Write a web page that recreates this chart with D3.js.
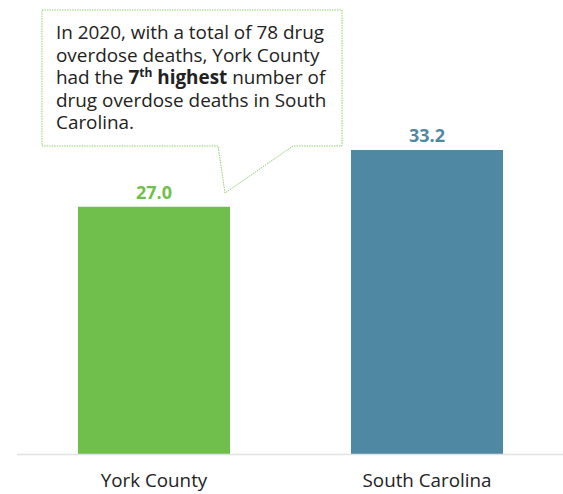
<!DOCTYPE html>
<html>
<head>
<meta charset="utf-8">
<script src="https://cdn.jsdelivr.net/npm/d3@7"></script>
<style>
  body { margin: 0; background: #fff; }
  svg { display: block; font-family: "Open Sans", Lato, sans-serif; }
</style>
</head>
<body>
<div id="chart"></div>
<script>
// Data
const categories = ["York County", "South Carolina"];
const values = [27.0, 33.2];
const barColors = ["#70bf4c", "#4f88a2"];
const calloutLines = [
    [{ t: "In 2020, with a total of 78 drug" }],
    [{ t: "overdose deaths, York County" }],
    [{ t: "had the " }, { t: "7", b: true }, { t: "th", b: true, sup: true }, { t: " highest", b: true }, { t: " number of" }],
    [{ t: "drug overdose deaths in South" }],
    [{ t: "Carolina." }]
];

const width = 563, height = 494;
const baseline = 454;

const svg = d3.select("#chart")
    .append("svg")
    .attr("width", width)
    .attr("height", height);

// Scales
const x = d3.scaleBand()
    .domain(categories)
    .range([17.5, 563.5])
    .paddingInner(0.443)
    .paddingOuter(0.2215);

const y = d3.scaleLinear()
    .domain([0, 40])
    .range([baseline, baseline - 40 * 9.157]);

// Bars
svg.selectAll(".bar")
    .data(values)
    .enter()
    .append("rect")
    .attr("class", "bar")
    .attr("x", (d, i) => x(categories[i]))
    .attr("y", d => y(d))
    .attr("width", x.bandwidth())
    .attr("height", d => y(0) - y(d))
    .style("fill", (d, i) => barColors[i]);

// Baseline
svg.append("line")
    .attr("x1", 17)
    .attr("x2", width)
    .attr("y1", baseline + 0.5)
    .attr("y2", baseline + 0.5)
    .style("stroke", "#e2e2e2")
    .style("stroke-width", 1.5);

// Value labels
svg.selectAll(".value-label")
    .data(values)
    .enter()
    .append("text")
    .attr("class", "value-label")
    .attr("x", (d, i) => x(categories[i]) + x.bandwidth() / 2)
    .attr("y", d => y(d) - 8)
    .attr("text-anchor", "middle")
    .style("font-size", "18px")
    .style("font-weight", "bold")
    .style("fill", (d, i) => barColors[i])
    .text(d => d.toFixed(1));

// Category labels
svg.selectAll(".cat-label")
    .data(categories)
    .enter()
    .append("text")
    .attr("class", "cat-label")
    .attr("x", d => x(d) + x.bandwidth() / 2)
    .attr("y", 487)
    .attr("text-anchor", "middle")
    .style("font-size", "18.8px")
    .style("fill", "#222")
    .text(d => d);

// Callout box with pointer
const box = { x0: 42, y0: 10, x1: 342, y1: 146 };
const tip = [225, 193];
const calloutPath = d3.path();
calloutPath.moveTo(box.x0, box.y0);
calloutPath.lineTo(box.x1, box.y0);
calloutPath.lineTo(box.x1, box.y1);
calloutPath.lineTo(293, box.y1);
calloutPath.lineTo(tip[0], tip[1]);
calloutPath.lineTo(218, box.y1);
calloutPath.lineTo(box.x0, box.y1);
calloutPath.closePath();

svg.append("path")
    .attr("d", calloutPath.toString())
    .style("fill", "#fff")
    .style("stroke", "#8fd16f")
    .style("stroke-width", 1)
    .style("stroke-dasharray", "1.5,1");

const txt = svg.append("text")
    .attr("x", 56)
    .style("font-size", "18.9px")
    .style("fill", "#222");

calloutLines.forEach((line, i) => {
    line.forEach((seg, j) => {
        const ts = txt.append("tspan")
            .text(seg.t)
            .style("font-weight", seg.b ? "bold" : "normal");
        if (j === 0) ts.attr("x", 56).attr("y", 39 + i * 22.5);
        if (seg.sup) {
            ts.style("font-size", "12px").attr("dy", -7);
        } else if (j > 0 && line[j - 1].sup) {
            ts.attr("dy", 7);
        }
    });
});
</script>
</body>
</html>
